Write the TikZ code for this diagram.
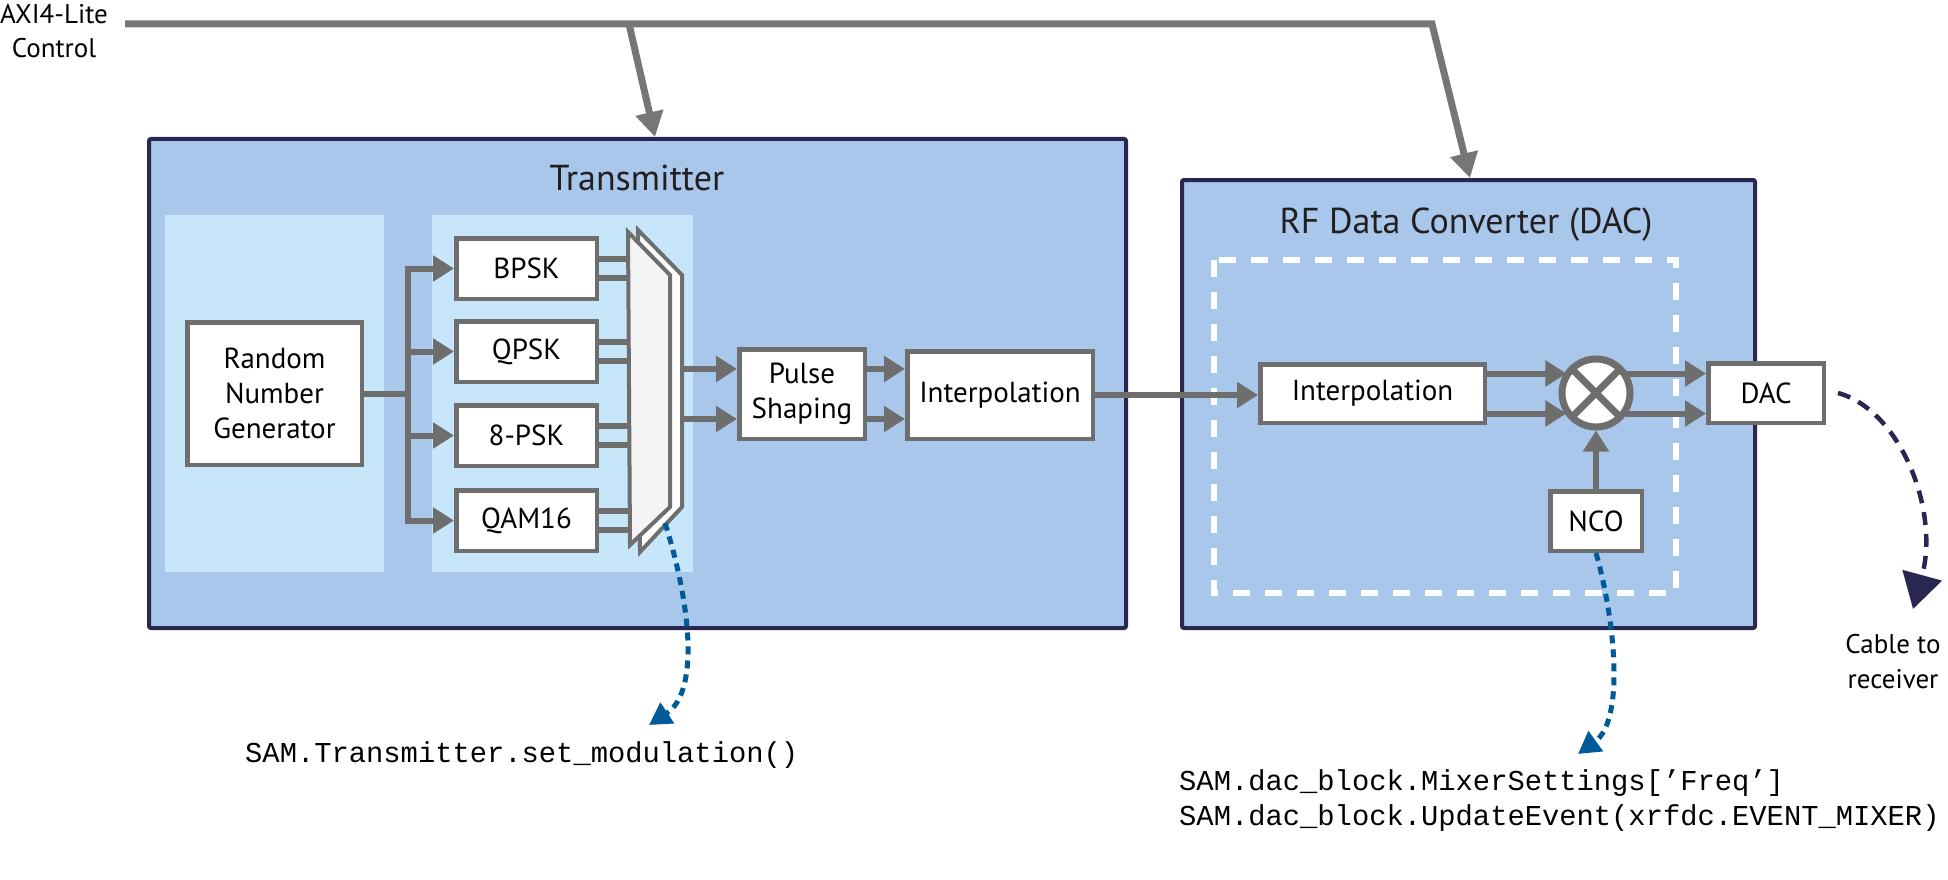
\documentclass[tikz,border=0pt]{standalone}
\usepackage{fontspec}
\setmainfont{PT Sans}
\newfontfamily\codefont{Liberation Mono}
\usetikzlibrary{arrows.meta}

\definecolor{bigfill}{HTML}{A9C7EA}
\definecolor{panelfill}{HTML}{C8E6FA}
\definecolor{navy}{HTML}{2A2652}
\definecolor{gline}{HTML}{6E6E6E}
\definecolor{axigray}{HTML}{767676}
\definecolor{muxfill}{HTML}{F4F4F4}
\definecolor{codeblue}{HTML}{005A97}
\definecolor{titletext}{HTML}{231F20}

\tikzset{
 blk/.style={draw=gline, line width=4.5pt, fill=white, inner sep=0pt, align=center, font=\fontsize{29}{35}\selectfont},
 bigbox/.style={draw=navy, line width=4pt, fill=bigfill, rounded corners=2pt, inner sep=0pt},
 panel/.style={fill=panelfill, draw=none},
 gl/.style={draw=gline, line width=6pt},
 ga/.style={gl, -{Triangle[length=21pt,width=25pt]}},
 ctl/.style={draw=axigray, line width=7pt},
 ctla/.style={ctl, -{Triangle[length=25pt,width=27pt]}},
 dotblue/.style={draw=codeblue, line width=5pt, dash pattern=on 8pt off 6pt, -{Triangle[length=22pt,width=24pt]}},
 cable/.style={draw=navy, line width=4.5pt, dash pattern=on 13pt off 9pt, -{Triangle[length=35pt,width=40pt]}},
 title/.style={font=\fontsize{36}{42}\selectfont, text=titletext, anchor=base, inner sep=0pt},
 code/.style={font=\codefont\fontsize{28.8}{35}\selectfont, anchor=base west, inner sep=0pt},
 lbl/.style={font=\fontsize{27}{34}\selectfont, anchor=base, inner sep=0pt},
}

\begin{document}
\begin{tikzpicture}[x=1pt,y=-1pt]
\useasboundingbox[fill=white] (0,0) rectangle (1948,880);

% big boxes
\node[bigbox, minimum width=977pt, minimum height=489pt] (tx) at (637.5,383.5) {};
\node[bigbox, minimum width=573pt, minimum height=448pt] (rfdc) at (1468.5,404) {};
\node[title] (txtitle) at (637,190) {Transmitter};
\node[title] (rftitle) at (1466,233) {RF Data Converter (DAC)};

% light panels
\fill[panel] (165,215) rectangle (384,572);
\fill[panel] (432,215) rectangle (693,572);

% dashed white frame
\draw[white, line width=6pt, dash pattern=on 17pt off 15pt] (1214,260) rectangle (1676,593);

% blocks
\node[blk, minimum width=174.5pt, minimum height=142.5pt] (rng) at (274.5,393.5) {Random\\Number\\Generator};
\node[blk, minimum width=140.5pt, minimum height=60.5pt] (bpsk) at (526.5,268.5) {BPSK};
\node[blk, minimum width=140.5pt, minimum height=60.5pt] (qpsk) at (526.5,351.5) {QPSK};
\node[blk, minimum width=140.5pt, minimum height=60.5pt] (psk8) at (526.5,435.5) {8-PSK};
\node[blk, minimum width=140.5pt, minimum height=60.5pt] (qam) at (526.5,520.5) {QAM16};
\node[blk, minimum width=125.5pt, minimum height=89.5pt] (pulse) at (802,394) {Pulse\\Shaping};
\node[blk, minimum width=185.5pt, minimum height=87.5pt] (itx) at (1000,395) {Interpolation};
\node[blk, minimum width=224.5pt, minimum height=58.5pt] (idac) at (1372.5,393.5) {Interpolation};
\node[blk, minimum width=115.5pt, minimum height=59.5pt] (dac) at (1766,393) {DAC};
\node[blk, minimum width=91.5pt, minimum height=59.5pt] (nco) at (1596,521) {NCO};
\node[circle, draw=gline, line width=7pt, fill=white, minimum size=68pt, inner sep=0pt] (mix) at (1596,393) {};
\draw[gline, line width=7pt] (mix.center) ++(45:34pt) -- ++(225:68pt);
\draw[gline, line width=7pt] (mix.center) ++(135:34pt) -- ++(315:68pt);

% multiplexer
\node[inner sep=0pt, minimum width=54pt, minimum height=322pt] (mux) at (655,391) {};
\foreach \b in {bpsk,qpsk,psk8,qam}{
  \draw[gl] ([yshift=9.5pt]\b.east) -- ([yshift=9.5pt]\b.east -| mux.west);
  \draw[gl] ([yshift=-9.5pt]\b.east) -- ([yshift=-9.5pt]\b.east -| mux.west);
}
\draw[draw=gline, line width=4pt, fill=white, line join=miter] (638,230) -- (682,275) -- (682,507) -- (640,552) -- cycle;
\draw[draw=gline, line width=4pt, fill=muxfill, line join=miter] (628,232) -- (670,275) -- (670,507) -- (630,545) -- cycle;

% fan-out from RNG
\draw[gl] (rng.east) -- ++(44pt,0) coordinate (fan);
\draw[ga] (fan) |- (bpsk.west);
\draw[ga] (fan) |- (qpsk.west);
\draw[ga] (fan) |- (psk8.west);
\draw[ga] (fan) |- (qam.west);

% data path
\draw[ga] ([yshift=25pt]pulse.west -| mux.east) -- ([yshift=25pt]pulse.west);
\draw[ga] ([yshift=-25pt]pulse.west -| mux.east) -- ([yshift=-25pt]pulse.west);
\draw[ga] ([yshift=25pt]pulse.east) -- ([yshift=25pt]pulse.east -| itx.west);
\draw[ga] ([yshift=-25pt]pulse.east) -- ([yshift=-25pt]pulse.east -| itx.west);
\draw[ga] (itx.east) -- (itx.east -| idac.west);
\draw[ga] ([yshift=20pt]idac.east) -- ([yshift=20pt]idac.east -| mix.142);
\draw[ga] ([yshift=-20pt]idac.east) -- ([yshift=-20pt]idac.east -| mix.218);
\draw[ga] ([yshift=20pt]idac.east -| mix.38) -- ([yshift=20pt]idac.east -| dac.west);
\draw[ga] ([yshift=-20pt]idac.east -| mix.322) -- ([yshift=-20pt]idac.east -| dac.west);
\draw[ga] (nco.north) -- (mix.south);

% AXI4-Lite control
\node[lbl] (axi1) at (54,24) {AXI4-Lite};
\node[lbl] (axi2) at (54,58) {Control};
\coordinate (axistart) at (125,24);
\coordinate (axibr) at (629,24);
\coordinate (axibend) at (1432,24);
\coordinate (txin) at (655,137);
\coordinate (dacin) at (1470,178);
\draw[ctla, line join=miter] (axistart) -- (axibend) -- (dacin);
\draw[ctla] (axibr) -- (txin);

% cable to receiver
\coordinate (cabstart) at ([xshift=12pt]dac.east);
\coordinate (cabtip) at (1913,609);
\draw[cable] (cabstart) .. controls (1900,410) and (1940,510) .. (cabtip);
\node[lbl] (cab1) at (1893,653) {Cable to};
\node[lbl] (cab2) at (1893,688) {receiver};

% software hooks
\coordinate (muxbot) at (665,523);
\coordinate (modtip) at (649,725);
\draw[dotblue] (muxbot) .. controls (688,595) and (702,690) .. (modtip);
\node[code] (modcode) at (245,762) {SAM.Transmitter.set\_modulation()};

\coordinate (ncotip) at (1578,754);
\draw[dotblue] (nco.south) .. controls (1615,620) and (1625,720) .. (ncotip);
\node[code] (mixcode1) at (1179,790) {SAM.dac\_block.MixerSettings[’Freq’]};
\node[code] (mixcode2) at (1179,825) {SAM.dac\_block.UpdateEvent(xrfdc.EVENT\_MIXER)};
\end{tikzpicture}
\end{document}
